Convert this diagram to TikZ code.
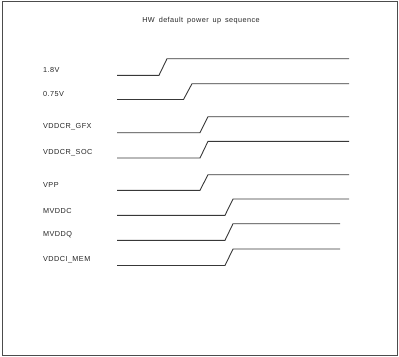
\documentclass[tikz,border=0pt]{standalone}
\usepackage{fontspec}
\setmainfont{Liberation Sans}
\newfontfamily\lblfont[LetterSpace=6,WordSpace=1.6]{Liberation Sans}
\begin{document}
\begin{tikzpicture}[x=1bp,y=-1bp,
  frame/.style={draw=black!70,line width=1bp},
  sig/.style={draw=black!78,line width=0.9bp,line join=miter},
  lbl/.style={anchor=west,inner sep=0pt,font=\lblfont\fontsize{7.3}{8}\selectfont,text=black!85},
  ttl/.style={inner sep=0pt,font=\lblfont\fontsize{7.3}{8}\selectfont,text=black!85}]
\useasboundingbox (0,0) rectangle (399,357);
\draw[frame] (2,1.5) rectangle (397.5,355.5);
\node[ttl] (title) at (201,21) {HW default power up sequence};
% labels
\node[lbl] (l1) at (43,70) {1.8V};
\node[lbl] (l2) at (43,94) {0.75V};
\node[lbl] (l3) at (43,127) {VDDCR\_GFX};
\node[lbl] (l4) at (43,152.5) {VDDCR\_SOC};
\node[lbl] (l5) at (43,185) {VPP};
\node[lbl] (l6) at (43,211) {MVDDC};
\node[lbl] (l7) at (43,235) {MVDDQ};
\node[lbl] (l8) at (43,259.5) {VDDCI\_MEM};
% waveforms
\draw[sig] (117,75.3) -- (159,75.3) -- (167,58.7) -- (349,58.7);
\draw[sig] (117,99.5) -- (183.5,99.5) -- (192,83.7) -- (349,83.7);
\draw[sig] (117,132.7) -- (200,132.7) -- (208,116.7) -- (349,116.7);
\draw[sig] (117,158) -- (200,158) -- (208,141.3) -- (349,141.3);
\draw[sig] (117,190.3) -- (200,190.3) -- (208,174.7) -- (349,174.7);
\draw[sig] (117,215.3) -- (225,215.3) -- (233,199) -- (349,199);
\draw[sig] (117,240.3) -- (225,240.3) -- (233,223.7) -- (340,223.7);
\draw[sig] (117,265.5) -- (225,265.5) -- (233,249) -- (340,249);
\end{tikzpicture}
\end{document}
